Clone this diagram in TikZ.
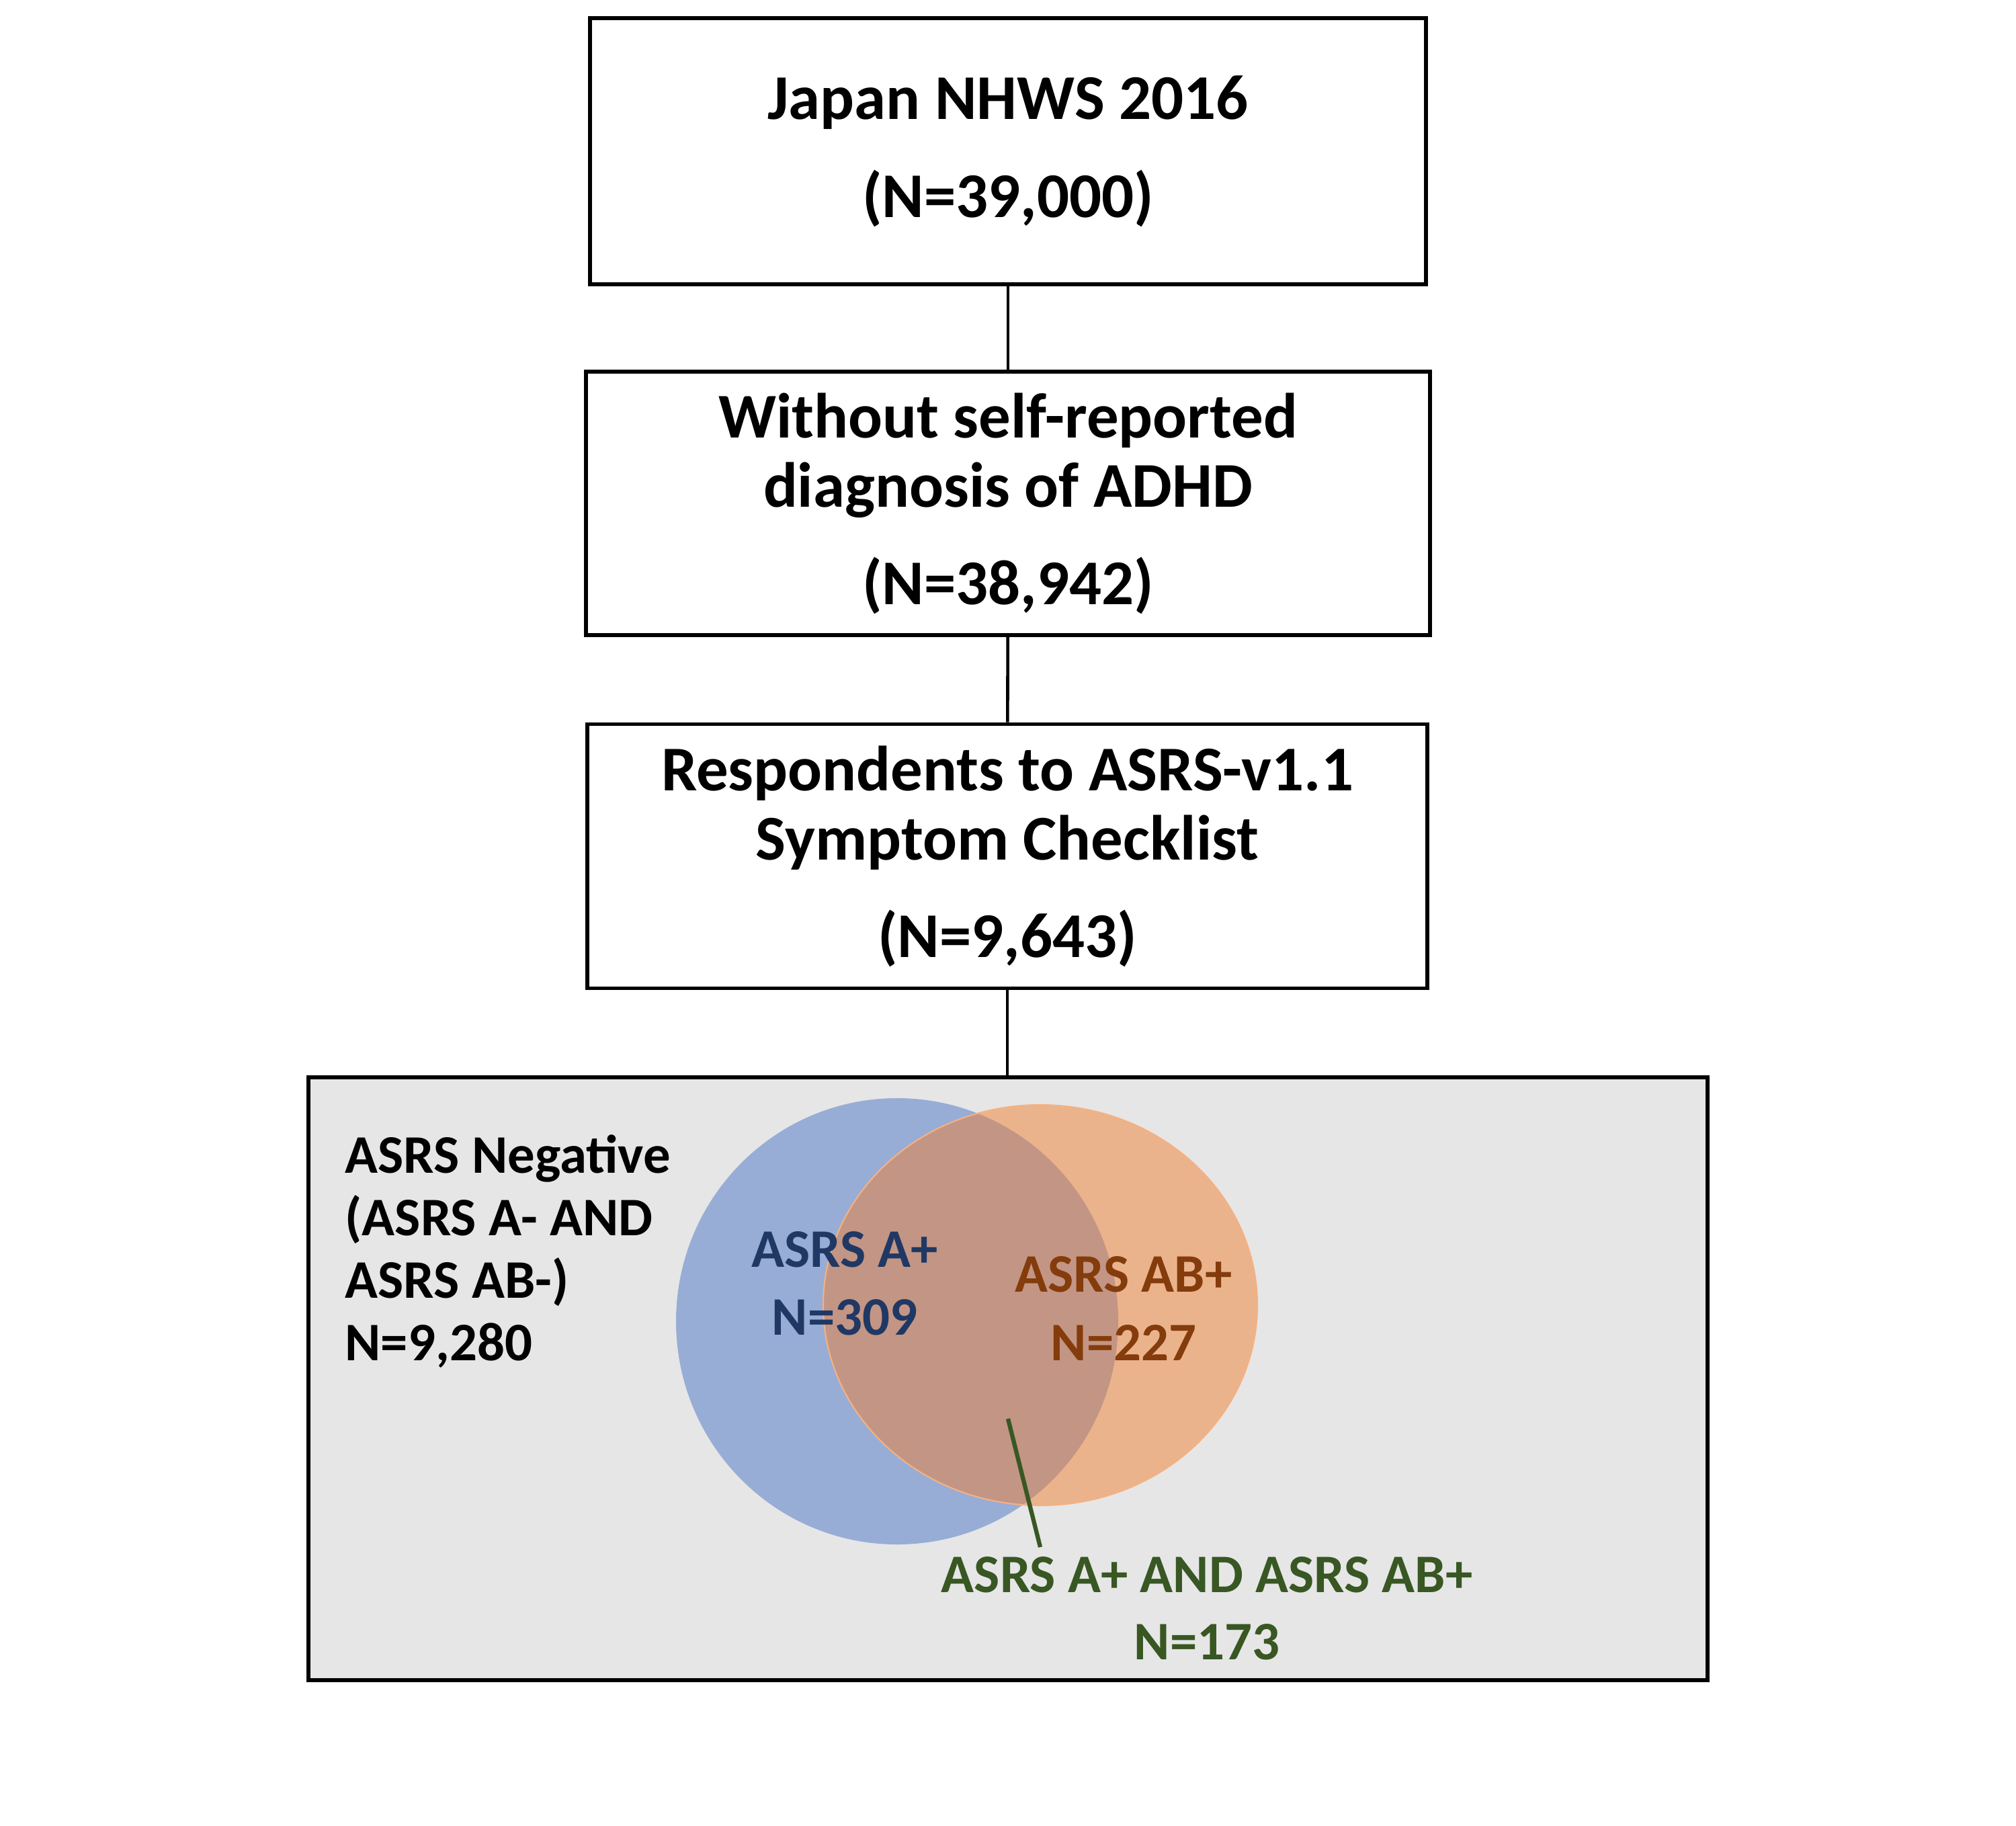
\documentclass[tikz,border=0pt]{standalone}
\usepackage{fontspec}
\setmainfont{Carlito}
\usepackage{tikz}
\tikzset{>=latex}
\usetikzlibrary{positioning}
\definecolor{venngray}{HTML}{E6E6E6}
\definecolor{vennblue}{HTML}{97ADD6}
\definecolor{vennorange}{HTML}{EBB38B}
\definecolor{vennboth}{HTML}{C39584}
\definecolor{orangeedge}{HTML}{F4B183}
\definecolor{textblue}{HTML}{203864}
\definecolor{textbrown}{HTML}{843C0C}
\definecolor{textgreen}{HTML}{385723}
\tikzset{
  flowbox/.style={draw=black, line width=1.6pt, minimum width=12.5cm, minimum height=3.93cm,
    align=center, font=\fontsize{27}{29.3}\selectfont\bfseries, inner sep=0pt},
  link/.style={line width=1.3pt},
  venntext/.style={font=\fontsize{23}{28.8}\selectfont\bfseries, align=center, inner sep=0pt}
}

\begin{document}
\begin{tikzpicture}
            \useasboundingbox (0, 0) rectangle (30, -27.16);
            \node[flowbox, minimum width=12.44cm, minimum height=3.96cm] (nhws) at (15, -2.25) {Japan NHWS 2016\\[0.43cm](N=39,000)};
            \node[flowbox, minimum width=12.56cm, minimum height=3.92cm] (noadhd) at (15, -7.49) {Without self-reported\\diagnosis of ADHD\\[0.42cm](N=38,942)};
            \node[flowbox] (asrs) at (14.99, -12.74) {Respondents to ASRS-v1.1\\Symptom Checklist\\[0.42cm](N=9,643)};
            \node[draw=black, fill=venngray, line width=1.6pt, minimum width=20.82cm, minimum height=8.97cm, inner sep=0pt] (venn) at (15, -20.515) {};
            \draw[link] (nhws) -- (noadhd);
            \draw[link] (noadhd) -- (asrs);
            \draw[link] (asrs) -- (asrs.south |- venn.north);
            % the two sets and their overlap
            \fill[vennblue] (13.35, -19.66) circle [x radius=3.29, y radius=3.32];
            \fill[vennorange] (15.48, -19.42) circle [x radius=3.23, y radius=2.98];
            \begin{scope}
                \clip (13.35, -19.66) circle [x radius=3.29, y radius=3.32];
                \fill[vennboth] (15.48, -19.42) circle [x radius=3.23, y radius=2.98];
            \end{scope}
            \draw[orangeedge, line width=0.6pt] (15.48, -19.42) circle [x radius=3.23, y radius=2.98];
            \node[venntext, align=left, anchor=west, font=\fontsize{23}{26.4}\selectfont\bfseries] (negative) at (5.13, -18.62) {ASRS Negative\\(ASRS A- AND\\ASRS AB-)\\N=9,280};
            \node[venntext, textblue] (apos) at (12.57, -19.10) {ASRS A+\\N=309};
            \node[venntext, textbrown] (abpos) at (16.72, -19.47) {ASRS AB+\\N=227};
            \node[venntext, textgreen, font=\fontsize{23}{28.3}\selectfont\bfseries] (both) at (17.96, -23.93) {ASRS A+ AND ASRS AB+\\N=173};
            \coordinate (bothtip) at (15.00, -21.11);
            \draw[textgreen, line width=1.8pt] (bothtip) -- (15.48, -23.02);
        \end{tikzpicture}
\end{document}
